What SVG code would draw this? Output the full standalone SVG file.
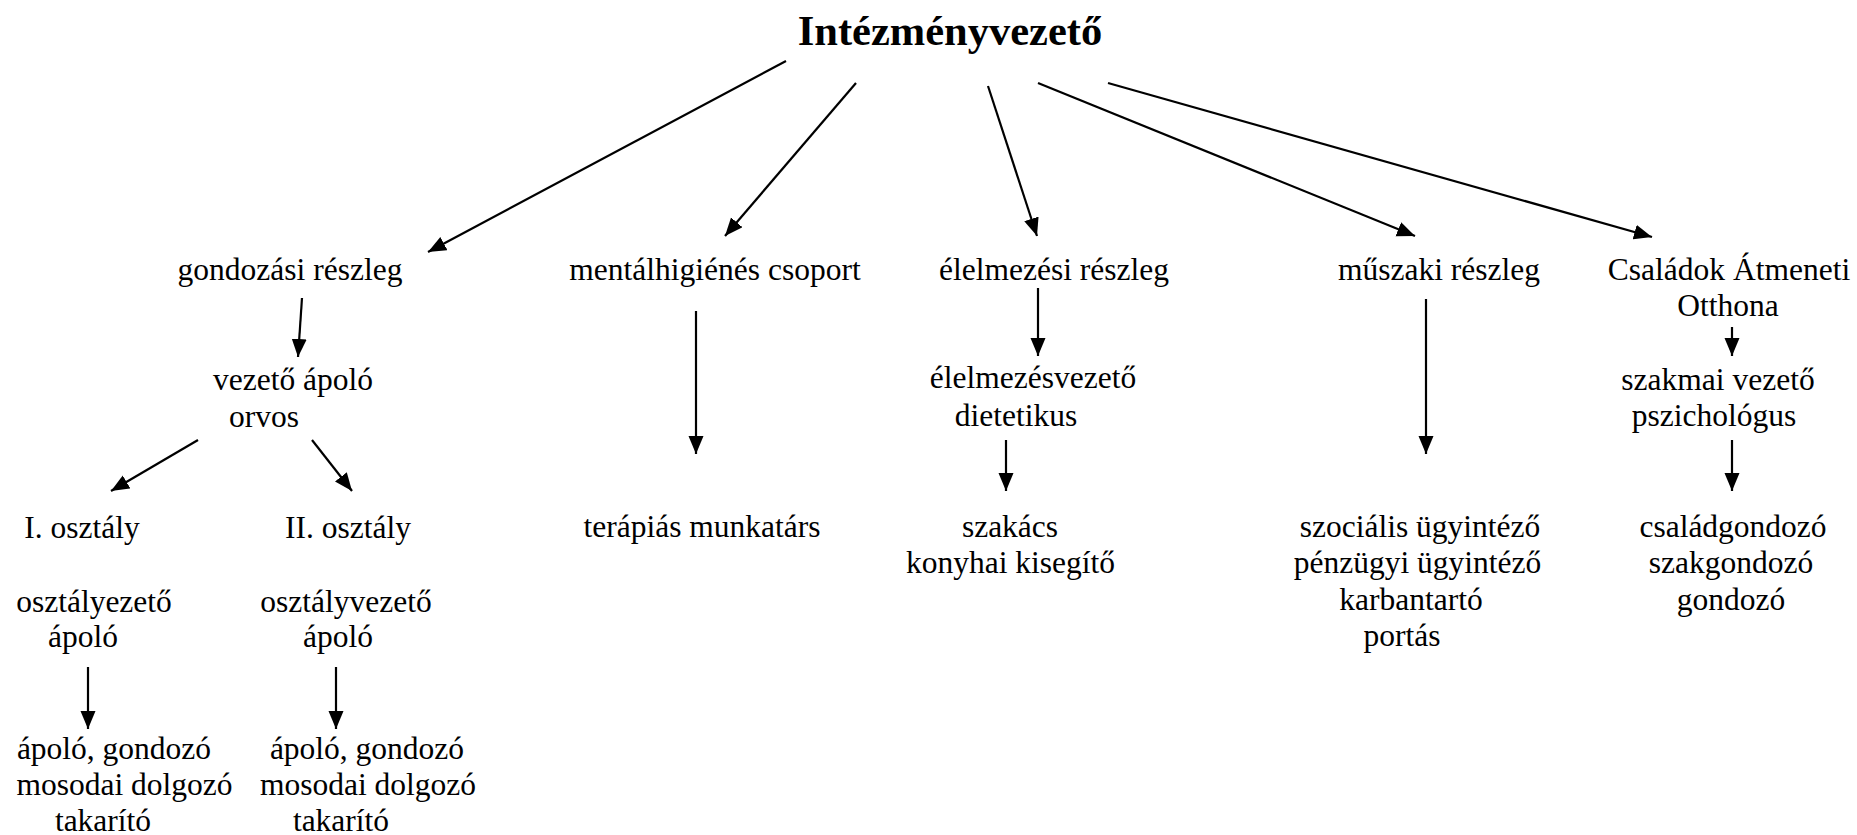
<svg xmlns="http://www.w3.org/2000/svg" width="1857" height="835" viewBox="0 0 1857 835">
<style>
text{font-family:"Liberation Serif","Times New Roman",serif;font-size:31.5px;fill:#000;text-anchor:middle}
.title{font-size:42.5px;font-weight:bold}
.c line{stroke:#000;stroke-width:2.2;marker-end:url(#ah)}
</style>
<defs>
<marker id="ah" markerUnits="userSpaceOnUse" markerWidth="20" markerHeight="16" refX="18" refY="7.5" orient="auto">
<path d="M0,0 L18,7.5 L0,15 z" fill="#000"/>
</marker>
</defs>
<rect width="1857" height="835" fill="#fff"/>
<g id="n-intezmenyvezeto"><text class="title" x="950" y="45">Intézményvezető</text></g>
<g id="n-gondozasi"><text x="290" y="280">gondozási részleg</text></g>
<g id="n-mentalhigienes"><text x="715" y="280">mentálhigiénés csoport</text></g>
<g id="n-elelmezesi"><text x="1054" y="280">élelmezési részleg</text></g>
<g id="n-muszaki"><text x="1439" y="280">műszaki részleg</text></g>
<g id="n-csaladok"><text x="1729" y="280">Családok Átmeneti</text><text x="1728" y="316">Otthona</text></g>
<g id="n-vezetoapolo"><text x="293" y="390">vezető ápoló</text><text x="264" y="427">orvos</text></g>
<g id="n-I"><text x="82" y="538">I. osztály</text><text x="94" y="612">osztályezető</text><text x="83" y="647">ápoló</text></g>
<g id="n-II"><text x="348" y="538">II. osztály</text><text x="346" y="612">osztályvezető</text><text x="338" y="647">ápoló</text></g>
<g id="n-I-staff"><text x="114" y="759">ápoló, gondozó</text><text x="124.5" y="795">mosodai dolgozó</text><text x="103" y="831">takarító</text></g>
<g id="n-II-staff"><text x="367" y="759">ápoló, gondozó</text><text x="368" y="795">mosodai dolgozó</text><text x="341" y="831">takarító</text></g>
<g id="n-terapias"><text x="702" y="537">terápiás munkatárs</text></g>
<g id="n-elelmezesvezeto"><text x="1033" y="388">élelmezésvezető</text><text x="1016" y="426">dietetikus</text></g>
<g id="n-szakacs"><text x="1010" y="537">szakács</text><text x="1010.5" y="573">konyhai kisegítő</text></g>
<g id="n-muszaki-staff"><text x="1420" y="537">szociális ügyintéző</text><text x="1417.5" y="573">pénzügyi ügyintéző</text><text x="1411" y="610">karbantartó</text><text x="1402" y="646">portás</text></g>
<g id="n-szakmai"><text x="1718" y="390">szakmai vezető</text><text x="1714" y="426">pszichológus</text></g>
<g id="n-csaladgondozo"><text x="1733" y="537">családgondozó</text><text x="1731" y="573">szakgondozó</text><text x="1731" y="610">gondozó</text></g>
<g id="connectors" class="c">
<line x1="786" y1="61" x2="428" y2="252"/>
<line x1="856" y1="83" x2="725" y2="236"/>
<line x1="988" y1="86" x2="1037" y2="236"/>
<line x1="1038" y1="83" x2="1415" y2="236"/>
<line x1="1108" y1="83" x2="1652" y2="237"/>
<line x1="302" y1="298" x2="298" y2="357"/>
<line x1="198" y1="440" x2="111" y2="491"/>
<line x1="312" y1="440" x2="352" y2="491"/>
<line x1="88" y1="667" x2="88" y2="729"/>
<line x1="336" y1="667" x2="336" y2="729"/>
<line x1="696" y1="311" x2="696" y2="454"/>
<line x1="1038" y1="288" x2="1038" y2="356"/>
<line x1="1006" y1="440" x2="1006" y2="491"/>
<line x1="1426" y1="299" x2="1426" y2="454"/>
<line x1="1732" y1="327" x2="1732" y2="356"/>
<line x1="1732" y1="440" x2="1732" y2="491"/>
</g>
</svg>
